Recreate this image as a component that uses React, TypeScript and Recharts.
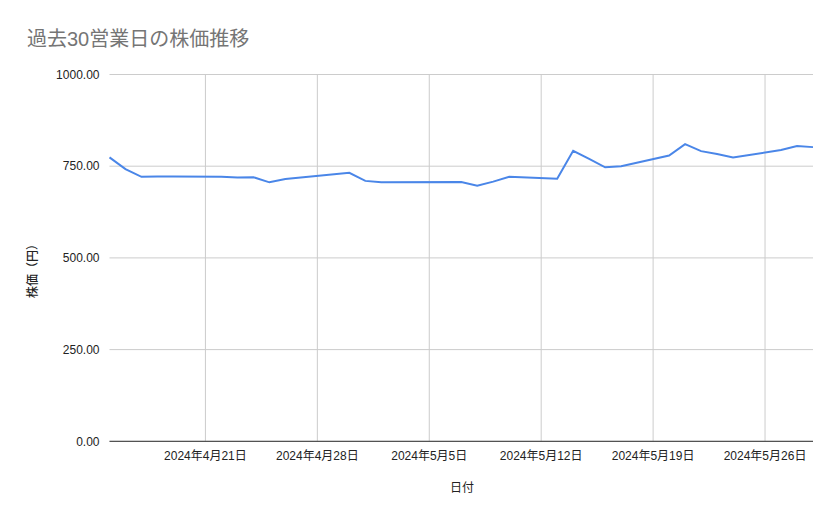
import { LineChart, Line, XAxis, YAxis, CartesianGrid, ReferenceLine } from 'recharts';

// 30 business days (Golden Week holidays skipped)
const dates = [
  '2024-04-15', '2024-04-16', '2024-04-17', '2024-04-18', '2024-04-19',
  '2024-04-22', '2024-04-23', '2024-04-24', '2024-04-25', '2024-04-26',
  '2024-04-30', '2024-05-01', '2024-05-02', '2024-05-07', '2024-05-08',
  '2024-05-09', '2024-05-10', '2024-05-13', '2024-05-14', '2024-05-15',
  '2024-05-16', '2024-05-17', '2024-05-20', '2024-05-21', '2024-05-22',
  '2024-05-23', '2024-05-24', '2024-05-27', '2024-05-28', '2024-05-29',
];

const prices = [
  774, 742, 721, 722, 722,
  721, 719, 720, 706, 715,
  732, 710, 706, 707, 697,
  708, 721, 716, 792, 770,
  747, 750, 779, 810, 791,
  783, 774, 794, 805, 802,
];

const xTickDates = ['2024-04-21', '2024-04-28', '2024-05-05', '2024-05-12', '2024-05-19', '2024-05-26'];
const yTicks = [0, 250, 500, 750, 1000];

const DAY = 86400000;
const toDay = (s: string) => Date.parse(s + 'T00:00:00Z') / DAY;

const formatDay = (d: number) => {
  const dt = new Date(d * DAY);
  return `${dt.getUTCFullYear()}年${dt.getUTCMonth() + 1}月${dt.getUTCDate()}日`;
};

const FONT = '"Liberation Sans", Arial, "Noto Sans CJK JP", sans-serif';

export default function App() {
  const data = dates.map((d, i) => ({ t: toDay(d), price: prices[i] }));
  const xTicks = xTickDates.map(toDay);

  return (
    <div style={{ position: 'absolute', left: 0, top: 0, width: 839, height: 519, background: '#fff', fontFamily: FONT }}>
      <div
        style={{
          position: 'absolute',
          left: 27,
          top: 28,
          fontSize: 20,
          lineHeight: '22px',
          color: '#757575',
          whiteSpace: 'nowrap',
        }}
      >
        過去30営業日の株価推移
      </div>

      <LineChart
        width={839}
        height={519}
        data={data}
        margin={{ top: 74.5, right: 26, bottom: 47.7, left: 0 }}
      >
        <CartesianGrid stroke="#cccccc" vertical={false} />
        {/* weekly vertical gridlines */}
        {xTicks.map((t) => (
          <ReferenceLine key={t} x={t} stroke="#cccccc" strokeWidth={1} />
        ))}
        <XAxis
          dataKey="t"
          type="number"
          scale="linear"
          domain={['dataMin', 'dataMax']}
          ticks={xTicks}
          tickFormatter={formatDay}
          height={30}
          tickLine={false}
          tickSize={8}
          axisLine={{ stroke: '#333333' }}
          tick={{ fill: '#222222', fontSize: 12, fontFamily: FONT }}
        />
        <YAxis
          domain={[0, 1000]}
          ticks={yTicks}
          tickFormatter={(v: number) => v.toFixed(2)}
          width={109.5}
          tickLine={false}
          tickSize={8}
          axisLine={false}
          tick={{ fill: '#222222', fontSize: 12, fontFamily: FONT }}
        />
        <Line
          type="linear"
          dataKey="price"
          stroke="#4a86e8"
          strokeWidth={2}
          dot={false}
          isAnimationActive={false}
        />
      </LineChart>

      <div
        style={{
          position: 'absolute',
          left: 31,
          top: 268,
          transform: 'translate(-50%, -50%) rotate(-90deg)',
          fontSize: 12,
          color: '#222222',
          whiteSpace: 'nowrap',
          fontWeight: 500,
        }}
      >
        株価（円）
      </div>
      <div
        style={{
          position: 'absolute',
          left: 462,
          top: 486,
          transform: 'translate(-50%, -50%)',
          fontSize: 12,
          color: '#222222',
          whiteSpace: 'nowrap',
        }}
      >
        日付
      </div>
    </div>
  );
}
